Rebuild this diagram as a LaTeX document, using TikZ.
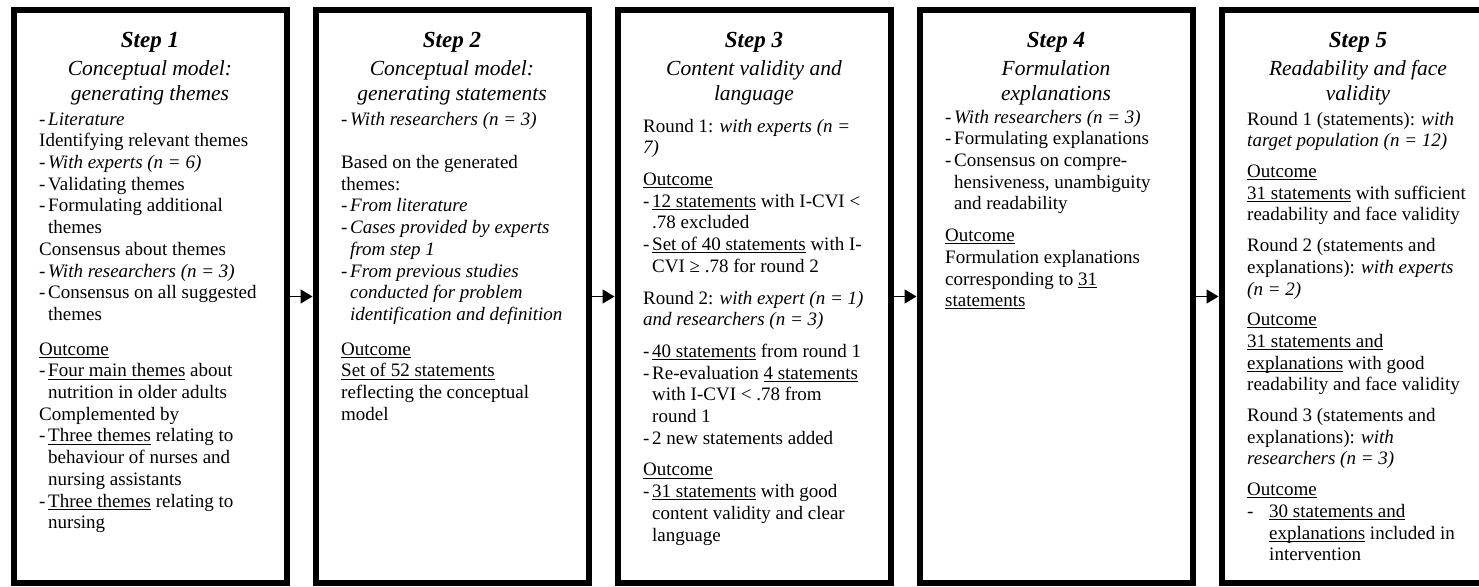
\documentclass[tikz,border=0pt]{standalone}
\usepackage{fontspec}
\setmainfont{Liberation Serif}
\usetikzlibrary{arrows.meta, positioning}

\newsavebox{\undlbox}
\newcommand{\undl}[1]{\sbox{\undlbox}{#1}\rlap{\rule[-2.6pt]{\wd\undlbox}{0.9pt}}\usebox{\undlbox}}
\newcommand{\dsh}{\makebox[9pt][l]{-}}
\newcommand{\ind}{\hspace*{9pt}}
\newcommand{\steptitle}[1]{{\bfseries\fontsize{23}{25}\selectfont\strut #1}}

\begin{document}
\begin{tikzpicture}[x=1pt, y=-1pt,
        stepbox/.style={draw=black, line width=6pt, minimum width=273pt,
          minimum height=573pt, inner sep=0pt},
        head/.style={font=\fontsize{21.5}{25}\selectfont\itshape, align=center,
          inner sep=0pt, anchor=north},
        body/.style={font=\fontsize{19}{21.7}\selectfont, align=left,
          inner sep=0pt, anchor=north west},
        arr/.style={-{Triangle[length=12pt,width=14pt]}, draw=black, line width=1.6pt}]
        \useasboundingbox (0,0) rectangle (1479,586);
        \clip (0,0) rectangle (1479,586);
        % the five steps
        \node[stepbox] (s1) at (150,296.5) {};
        \node[stepbox, right=23pt of s1] (s2) {};
        \node[stepbox, right=23pt of s2] (s3) {};
        \node[stepbox, right=23pt of s3] (s4) {};
        \node[stepbox, right=23pt of s4] (s5) {};
        % headings
        \node[head, below=22.5pt of s1.north] (h1) {\steptitle{Step 1}\\[3pt] Conceptual model:\\ generating themes};
        \node[head, below=22.5pt of s2.north] (h2) {\steptitle{Step 2}\\[3pt] Conceptual model:\\ generating statements};
        \node[head, below=22.5pt of s3.north] (h3) {\steptitle{Step 3}\\[3pt] Content validity and\\ language};
        \node[head, below=22.5pt of s4.north] (h4) {\steptitle{Step 4}\\[3pt] Formulation\\ explanations};
        \node[head, below=22.5pt of s5.north] (h5) {\steptitle{Step 5}\\[3pt] Readability and face\\ validity};
        % contents
        \node[body, below right=102.8pt and 28.5pt of s1.north west] (b1) {\strut\dsh\textit{Literature}\\
          Identifying relevant themes\\
          \dsh\textit{With experts (n = 6)}\\
          \dsh Validating themes\\
          \dsh Formulating additional\\
          \ind themes\\
          Consensus about themes\\
          \dsh\textit{With researchers (n = 3)}\\
          \dsh Consensus on all suggested\\
          \ind themes\\[13pt]
          \undl{Outcome}\\
          \dsh\undl{Four main themes} about\\
          \ind nutrition in older adults\\
          Complemented by\\
          \dsh\undl{Three themes} relating to\\
          \ind behaviour of nurses and\\
          \ind nursing assistants\\
          \dsh\undl{Three themes} relating to\\
          \ind nursing};
        \node[body, below right=102.8pt and 28.5pt of s2.north west] (b2) {\strut\dsh\textit{With researchers (n = 3)}\\[21.7pt]
          Based on the generated\\
          themes:\\
          \dsh\textit{From literature}\\
          \dsh\textit{Cases provided by experts}\\
          \ind\textit{from step 1}\\
          \dsh\textit{From previous studies}\\
          \ind\textit{conducted for problem}\\
          \ind\textit{identification and definition}\\[13pt]
          \undl{Outcome}\\
          \undl{Set of 52 statements}\\
          reflecting the conceptual\\
          model};
        \node[body, below right=109.8pt and 28.5pt of s3.north west] (b3) {\strut Round 1: \textit{with experts (n =}\\
          \textit{7)}\\[10pt]
          \undl{Outcome}\\
          \dsh\undl{12 statements} with I-CVI <\\
          \ind .78 excluded\\
          \dsh\undl{Set of 40 statements} with I-\\
          \ind CVI ≥ .78 for round 2\\[10pt]
          Round 2: \textit{with expert (n = 1)}\\
          \textit{and researchers (n = 3)}\\[10pt]
          \dsh\undl{40 statements} from round 1\\
          \dsh Re-evaluation \undl{4 statements}\\
          \ind with I-CVI < .78 from\\
          \ind round 1\\
          \dsh 2 new statements added\\[10pt]
          \undl{Outcome}\\
          \dsh\undl{31 statements} with good\\
          \ind content validity and clear\\
          \ind language};
        \node[body, below right=100.8pt and 28.5pt of s4.north west] (b4) {\strut\dsh\textit{With researchers (n = 3)}\\
          \dsh Formulating explanations\\
          \dsh Consensus on compre-\\
          \ind hensiveness, unambiguity\\
          \ind and readability\\[10pt]
          \undl{Outcome}\\
          Formulation explanations\\
          corresponding to \undl{31}\\
          \undl{statements}};
        \node[body, below right=102.8pt and 28.5pt of s5.north west] (b5) {\strut Round 1 (statements): \textit{with}\\
          \textit{target population (n = 12)}\\[9pt]
          \undl{Outcome}\\
          \undl{31 statements} with sufficient\\
          readability and face validity\\[9pt]
          Round 2 (statements and\\
          explanations): \textit{with experts}\\
          \textit{(n = 2)}\\[9pt]
          \undl{Outcome}\\
          \undl{31 statements and}\\
          \undl{explanations} with good\\
          readability and face validity\\[9pt]
          Round 3 (statements and\\
          explanations): \textit{with}\\
          \textit{researchers (n = 3)}\\[9pt]
          \undl{Outcome}\\
          \makebox[22pt][l]{-}\undl{30 statements and}\\
          \hspace*{22pt}\undl{explanations} included in\\
          \hspace*{22pt}intervention};
        % flow
        \draw[arr] (s1) -- (s2);
        \draw[arr] (s2) -- (s3);
        \draw[arr] (s3) -- (s4);
        \draw[arr] (s4) -- (s5);
      \end{tikzpicture}
\end{document}
